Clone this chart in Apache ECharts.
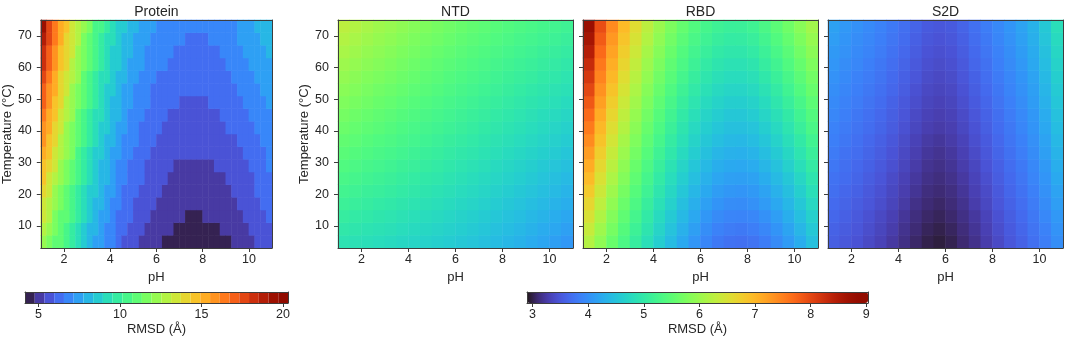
<!DOCTYPE html>
<html>
<head>
<meta charset="utf-8">
<script src="https://cdn.jsdelivr.net/npm/echarts@6/dist/echarts.min.js"></script>
<style>
html, body { margin: 0; padding: 0; background: #fff; }
#main { width: 1065px; height: 338px; }
</style>
</head>
<body>
<div id="main"></div>
<script>
// cell centres of the response surfaces
var proteinPhCenters = [1.125, 1.375, 1.625, 1.875, 2.125, 2.375, 2.625, 2.875, 3.125, 3.375, 3.625, 3.875,
    4.125, 4.375, 4.625, 4.875, 5.125, 5.375, 5.625, 5.875, 6.125, 6.375, 6.625, 6.875, 7.125, 7.375, 7.625, 7.875,
    8.125, 8.375, 8.625, 8.875, 9.125, 9.375, 9.625, 9.875, 10.125, 10.375, 10.625, 10.875];
var phCenters = [1.25, 1.75, 2.25, 2.75, 3.25, 3.75, 4.25, 4.75, 5.25, 5.75, 6.25, 6.75, 7.25, 7.75, 8.25, 8.75, 9.25, 9.75, 10.25, 10.75];
var tempCenters = [5, 9, 13, 17, 21, 25, 29, 33, 37, 41, 45, 49, 53, 57, 61, 65, 69, 73];

var phTicks = [2, 4, 6, 8, 10];
var tempTicks = [10, 20, 30, 40, 50, 60, 70];
var proteinBarTicks = [5, 10, 15, 20];
var domainBarTicks = [3, 4, 5, 6, 7, 8, 9];

// contour levels of the protein panel
var proteinLevels = [4.18, 4.78, 5.37, 5.97, 6.57, 7.17, 7.76, 8.36, 8.96, 9.56, 10.15, 10.75, 11.35, 11.95, 12.54,
    13.14, 13.74, 14.34, 14.93, 15.53, 16.13, 16.73, 17.32, 17.92, 18.52, 19.12, 19.71, 20.31];

// RMSD (A), one list per pH column, temperature going up
var proteinRmsd = [
    [12.40, 12.81, 13.21, 13.62, 14.03, 14.43, 14.84, 15.24, 15.65, 16.05, 16.46, 16.86, 17.27, 17.68, 18.08, 18.49, 18.89, 19.30],
    [11.88, 12.23, 12.58, 12.94, 13.29, 13.64, 13.99, 14.35, 14.70, 15.05, 15.40, 15.76, 16.11, 16.46, 16.82, 17.17, 17.52, 17.87],
    [11.30, 11.61, 11.91, 12.22, 12.53, 12.83, 13.14, 13.44, 13.75, 14.05, 14.36, 14.66, 14.97, 15.28, 15.58, 15.89, 16.19, 16.50],
    [10.79, 11.05, 11.32, 11.59, 11.86, 12.13, 12.40, 12.67, 12.94, 13.21, 13.48, 13.75, 14.02, 14.29, 14.56, 14.83, 15.10, 15.37],
    [10.27, 10.52, 10.77, 11.02, 11.26, 11.51, 11.76, 12.00, 12.25, 12.50, 12.75, 12.99, 13.24, 13.49, 13.74, 13.98, 14.23, 14.48],
    [9.72, 9.95, 10.18, 10.42, 10.65, 10.88, 11.12, 11.35, 11.58, 11.82, 12.05, 12.28, 12.52, 12.75, 12.98, 13.22, 13.45, 13.68],
    [9.11, 9.33, 9.56, 9.78, 10.00, 10.22, 10.44, 10.67, 10.89, 11.11, 11.33, 11.56, 11.78, 12.00, 12.22, 12.44, 12.67, 12.89],
    [8.55, 8.76, 8.97, 9.18, 9.39, 9.60, 9.80, 10.01, 10.22, 10.43, 10.64, 10.85, 11.05, 11.26, 11.47, 11.68, 11.89, 12.10],
    [8.10, 8.29, 8.48, 8.67, 8.86, 9.05, 9.25, 9.44, 9.63, 9.82, 10.01, 10.20, 10.40, 10.59, 10.78, 10.97, 11.16, 11.35],
    [7.69, 7.87, 8.04, 8.22, 8.40, 8.58, 8.76, 8.93, 9.11, 9.29, 9.47, 9.64, 9.82, 10.00, 10.18, 10.36, 10.53, 10.71],
    [7.33, 7.50, 7.67, 7.83, 8.00, 8.17, 8.33, 8.50, 8.67, 8.83, 9.00, 9.17, 9.33, 9.50, 9.67, 9.83, 10.00, 10.17],
    [6.98, 7.14, 7.30, 7.45, 7.61, 7.77, 7.93, 8.09, 8.25, 8.40, 8.56, 8.72, 8.88, 9.04, 9.20, 9.35, 9.51, 9.67],
    [6.61, 6.76, 6.92, 7.07, 7.22, 7.38, 7.53, 7.68, 7.84, 7.99, 8.15, 8.30, 8.45, 8.61, 8.76, 8.92, 9.07, 9.22],
    [6.26, 6.41, 6.56, 6.71, 6.86, 7.01, 7.16, 7.31, 7.46, 7.62, 7.77, 7.92, 8.07, 8.22, 8.37, 8.52, 8.67, 8.82],
    [5.95, 6.10, 6.25, 6.40, 6.54, 6.69, 6.84, 6.98, 7.13, 7.28, 7.43, 7.57, 7.72, 7.87, 8.01, 8.16, 8.31, 8.46],
    [5.72, 5.86, 6.00, 6.14, 6.28, 6.42, 6.56, 6.70, 6.85, 6.99, 7.13, 7.27, 7.41, 7.55, 7.69, 7.83, 7.97, 8.11],
    [5.52, 5.65, 5.79, 5.92, 6.06, 6.19, 6.33, 6.46, 6.60, 6.73, 6.87, 7.00, 7.14, 7.27, 7.41, 7.54, 7.68, 7.81],
    [5.32, 5.45, 5.58, 5.71, 5.85, 5.98, 6.11, 6.24, 6.37, 6.51, 6.64, 6.77, 6.90, 7.04, 7.17, 7.30, 7.43, 7.56],
    [5.15, 5.28, 5.41, 5.54, 5.67, 5.80, 5.93, 6.06, 6.19, 6.32, 6.45, 6.58, 6.71, 6.84, 6.97, 7.10, 7.24, 7.37],
    [5.00, 5.13, 5.26, 5.39, 5.52, 5.65, 5.78, 5.91, 6.04, 6.17, 6.30, 6.43, 6.56, 6.69, 6.82, 6.95, 7.09, 7.22],
    [4.86, 4.99, 5.12, 5.25, 5.38, 5.51, 5.64, 5.77, 5.90, 6.03, 6.16, 6.29, 6.42, 6.55, 6.68, 6.81, 6.95, 7.08],
    [4.75, 4.88, 5.01, 5.14, 5.27, 5.40, 5.53, 5.66, 5.79, 5.92, 6.05, 6.18, 6.31, 6.44, 6.57, 6.70, 6.83, 6.96],
    [4.66, 4.79, 4.92, 5.05, 5.18, 5.30, 5.43, 5.56, 5.69, 5.81, 5.94, 6.07, 6.20, 6.33, 6.45, 6.58, 6.71, 6.84],
    [4.59, 4.72, 4.85, 4.98, 5.10, 5.23, 5.36, 5.48, 5.61, 5.74, 5.87, 5.99, 6.12, 6.25, 6.38, 6.50, 6.63, 6.76],
    [4.54, 4.67, 4.80, 4.92, 5.05, 5.18, 5.30, 5.43, 5.56, 5.68, 5.81, 5.94, 6.06, 6.19, 6.32, 6.44, 6.57, 6.70],
    [4.51, 4.64, 4.77, 4.89, 5.02, 5.15, 5.27, 5.40, 5.53, 5.65, 5.78, 5.91, 6.03, 6.16, 6.29, 6.41, 6.54, 6.67],
    [4.50, 4.63, 4.75, 4.88, 5.01, 5.13, 5.26, 5.38, 5.51, 5.63, 5.76, 5.88, 6.01, 6.14, 6.26, 6.39, 6.51, 6.64],
    [4.50, 4.63, 4.76, 4.88, 5.01, 5.13, 5.26, 5.39, 5.51, 5.64, 5.76, 5.89, 6.02, 6.14, 6.27, 6.39, 6.52, 6.65],
    [4.53, 4.66, 4.79, 4.91, 5.04, 5.16, 5.29, 5.42, 5.54, 5.67, 5.79, 5.92, 6.05, 6.17, 6.30, 6.42, 6.55, 6.68],
    [4.56, 4.69, 4.82, 4.95, 5.08, 5.20, 5.33, 5.46, 5.59, 5.71, 5.84, 5.97, 6.10, 6.23, 6.35, 6.48, 6.61, 6.74],
    [4.61, 4.74, 4.87, 5.00, 5.13, 5.26, 5.39, 5.52, 5.65, 5.78, 5.91, 6.04, 6.17, 6.30, 6.43, 6.56, 6.68, 6.81],
    [4.69, 4.82, 4.95, 5.08, 5.21, 5.34, 5.47, 5.60, 5.73, 5.87, 6.00, 6.13, 6.26, 6.39, 6.52, 6.65, 6.78, 6.91],
    [4.77, 4.90, 5.03, 5.17, 5.30, 5.43, 5.57, 5.70, 5.83, 5.97, 6.10, 6.23, 6.37, 6.50, 6.63, 6.77, 6.90, 7.03],
    [4.87, 5.00, 5.14, 5.27, 5.41, 5.54, 5.68, 5.81, 5.95, 6.08, 6.22, 6.35, 6.49, 6.62, 6.76, 6.89, 7.03, 7.16],
    [4.98, 5.12, 5.25, 5.39, 5.53, 5.67, 5.80, 5.94, 6.08, 6.21, 6.35, 6.49, 6.63, 6.76, 6.90, 7.04, 7.17, 7.31],
    [5.11, 5.25, 5.39, 5.52, 5.66, 5.80, 5.94, 6.08, 6.22, 6.35, 6.49, 6.63, 6.77, 6.91, 7.05, 7.18, 7.32, 7.46],
    [5.25, 5.39, 5.53, 5.67, 5.81, 5.95, 6.09, 6.23, 6.37, 6.50, 6.64, 6.78, 6.92, 7.06, 7.20, 7.34, 7.48, 7.62],
    [5.40, 5.54, 5.68, 5.82, 5.97, 6.11, 6.25, 6.39, 6.53, 6.67, 6.81, 6.95, 7.09, 7.23, 7.38, 7.52, 7.66, 7.80],
    [5.56, 5.70, 5.84, 5.99, 6.13, 6.27, 6.41, 6.55, 6.69, 6.84, 6.98, 7.12, 7.26, 7.40, 7.54, 7.69, 7.83, 7.97],
    [5.73, 5.87, 6.01, 6.16, 6.30, 6.44, 6.58, 6.72, 6.86, 7.01, 7.15, 7.29, 7.43, 7.57, 7.71, 7.86, 8.00, 8.14]
];

var ntdRmsd = [
    [4.90, 4.98, 5.06, 5.14, 5.22, 5.30, 5.38, 5.46, 5.54, 5.62, 5.70, 5.78, 5.86, 5.94, 6.02, 6.10, 6.18, 6.26],
    [4.87, 4.95, 5.02, 5.10, 5.18, 5.26, 5.33, 5.41, 5.49, 5.56, 5.64, 5.72, 5.80, 5.87, 5.95, 6.03, 6.10, 6.18],
    [4.84, 4.91, 4.99, 5.06, 5.13, 5.21, 5.28, 5.36, 5.43, 5.51, 5.58, 5.66, 5.73, 5.80, 5.88, 5.95, 6.03, 6.10],
    [4.81, 4.88, 4.95, 5.02, 5.10, 5.17, 5.24, 5.31, 5.38, 5.46, 5.53, 5.60, 5.67, 5.75, 5.82, 5.89, 5.96, 6.03],
    [4.78, 4.85, 4.92, 4.99, 5.06, 5.13, 5.20, 5.27, 5.34, 5.41, 5.48, 5.55, 5.62, 5.69, 5.76, 5.83, 5.90, 5.97],
    [4.74, 4.81, 4.88, 4.95, 5.02, 5.08, 5.15, 5.22, 5.29, 5.35, 5.42, 5.49, 5.56, 5.63, 5.69, 5.76, 5.83, 5.90],
    [4.71, 4.78, 4.84, 4.91, 4.98, 5.04, 5.11, 5.17, 5.24, 5.30, 5.37, 5.43, 5.50, 5.57, 5.63, 5.70, 5.76, 5.83],
    [4.67, 4.74, 4.80, 4.87, 4.93, 4.99, 5.06, 5.12, 5.19, 5.25, 5.32, 5.38, 5.45, 5.51, 5.57, 5.64, 5.70, 5.77],
    [4.64, 4.70, 4.77, 4.83, 4.89, 4.96, 5.02, 5.08, 5.14, 5.21, 5.27, 5.33, 5.40, 5.46, 5.52, 5.58, 5.65, 5.71],
    [4.60, 4.66, 4.72, 4.79, 4.85, 4.91, 4.97, 5.03, 5.09, 5.16, 5.22, 5.28, 5.34, 5.40, 5.46, 5.53, 5.59, 5.65],
    [4.56, 4.62, 4.68, 4.74, 4.80, 4.86, 4.92, 4.98, 5.05, 5.11, 5.17, 5.23, 5.29, 5.35, 5.41, 5.47, 5.53, 5.59],
    [4.52, 4.58, 4.64, 4.70, 4.76, 4.82, 4.88, 4.94, 5.00, 5.06, 5.12, 5.18, 5.24, 5.30, 5.36, 5.42, 5.48, 5.54],
    [4.47, 4.53, 4.59, 4.65, 4.71, 4.77, 4.83, 4.89, 4.95, 5.01, 5.07, 5.13, 5.19, 5.25, 5.31, 5.37, 5.43, 5.49],
    [4.42, 4.48, 4.54, 4.60, 4.66, 4.72, 4.78, 4.84, 4.90, 4.96, 5.02, 5.08, 5.14, 5.20, 5.26, 5.32, 5.38, 5.44],
    [4.37, 4.43, 4.49, 4.55, 4.61, 4.67, 4.73, 4.79, 4.85, 4.91, 4.97, 5.03, 5.09, 5.15, 5.21, 5.27, 5.33, 5.39],
    [4.32, 4.38, 4.44, 4.50, 4.56, 4.62, 4.68, 4.74, 4.80, 4.86, 4.92, 4.98, 5.04, 5.10, 5.16, 5.22, 5.28, 5.34],
    [4.26, 4.32, 4.38, 4.44, 4.51, 4.57, 4.63, 4.69, 4.75, 4.81, 4.87, 4.93, 4.99, 5.06, 5.12, 5.18, 5.24, 5.30],
    [4.20, 4.26, 4.33, 4.39, 4.45, 4.51, 4.57, 4.64, 4.70, 4.76, 4.82, 4.89, 4.95, 5.01, 5.07, 5.13, 5.20, 5.26],
    [4.14, 4.21, 4.27, 4.33, 4.40, 4.46, 4.52, 4.59, 4.65, 4.71, 4.78, 4.84, 4.90, 4.97, 5.03, 5.09, 5.16, 5.22],
    [4.08, 4.15, 4.21, 4.28, 4.34, 4.40, 4.47, 4.53, 4.60, 4.66, 4.73, 4.79, 4.86, 4.92, 4.98, 5.05, 5.11, 5.18]
];

var rbdRmsd = [
    [6.20, 6.35, 6.50, 6.65, 6.80, 6.95, 7.10, 7.25, 7.40, 7.55, 7.70, 7.85, 8.00, 8.15, 8.30, 8.45, 8.60, 8.75],
    [5.91, 6.03, 6.15, 6.27, 6.39, 6.51, 6.63, 6.75, 6.87, 6.98, 7.10, 7.22, 7.34, 7.46, 7.58, 7.70, 7.82, 7.94],
    [5.60, 5.71, 5.81, 5.92, 6.03, 6.13, 6.24, 6.34, 6.45, 6.55, 6.66, 6.76, 6.87, 6.98, 7.08, 7.19, 7.29, 7.40],
    [5.33, 5.42, 5.52, 5.61, 5.71, 5.81, 5.90, 6.00, 6.09, 6.19, 6.28, 6.38, 6.48, 6.57, 6.67, 6.76, 6.86, 6.95],
    [5.07, 5.16, 5.25, 5.34, 5.43, 5.52, 5.60, 5.69, 5.78, 5.87, 5.96, 6.05, 6.13, 6.22, 6.31, 6.40, 6.49, 6.58],
    [4.84, 4.93, 5.01, 5.09, 5.18, 5.26, 5.34, 5.43, 5.51, 5.59, 5.68, 5.76, 5.84, 5.93, 6.01, 6.09, 6.18, 6.26],
    [4.62, 4.70, 4.78, 4.86, 4.94, 5.02, 5.10, 5.18, 5.27, 5.35, 5.43, 5.51, 5.59, 5.67, 5.75, 5.83, 5.91, 5.99],
    [4.42, 4.50, 4.58, 4.66, 4.74, 4.81, 4.89, 4.97, 5.05, 5.13, 5.21, 5.29, 5.37, 5.45, 5.52, 5.60, 5.68, 5.76],
    [4.23, 4.31, 4.39, 4.46, 4.54, 4.62, 4.70, 4.78, 4.86, 4.93, 5.01, 5.09, 5.17, 5.25, 5.33, 5.40, 5.48, 5.56],
    [4.06, 4.14, 4.22, 4.29, 4.37, 4.45, 4.53, 4.61, 4.69, 4.76, 4.84, 4.92, 5.00, 5.08, 5.16, 5.23, 5.31, 5.39],
    [3.91, 3.99, 4.07, 4.15, 4.23, 4.31, 4.39, 4.47, 4.55, 4.62, 4.70, 4.78, 4.86, 4.94, 5.02, 5.10, 5.18, 5.26],
    [3.80, 3.88, 3.96, 4.04, 4.12, 4.20, 4.28, 4.36, 4.45, 4.53, 4.61, 4.69, 4.77, 4.85, 4.93, 5.01, 5.09, 5.17],
    [3.74, 3.82, 3.90, 3.98, 4.07, 4.15, 4.23, 4.31, 4.39, 4.47, 4.55, 4.63, 4.71, 4.80, 4.88, 4.96, 5.04, 5.12],
    [3.72, 3.80, 3.89, 3.97, 4.05, 4.14, 4.22, 4.30, 4.38, 4.47, 4.55, 4.63, 4.71, 4.80, 4.88, 4.96, 5.05, 5.13],
    [3.75, 3.84, 3.92, 4.01, 4.09, 4.17, 4.26, 4.34, 4.43, 4.51, 4.60, 4.68, 4.77, 4.85, 4.93, 5.02, 5.10, 5.19],
    [3.83, 3.92, 4.01, 4.10, 4.18, 4.27, 4.36, 4.44, 4.53, 4.62, 4.71, 4.79, 4.88, 4.97, 5.06, 5.14, 5.23, 5.32],
    [3.96, 4.04, 4.13, 4.22, 4.31, 4.40, 4.49, 4.58, 4.67, 4.76, 4.85, 4.94, 5.03, 5.12, 5.21, 5.30, 5.39, 5.48],
    [4.10, 4.19, 4.28, 4.37, 4.46, 4.55, 4.65, 4.74, 4.83, 4.92, 5.01, 5.10, 5.20, 5.29, 5.38, 5.47, 5.56, 5.65],
    [4.27, 4.36, 4.45, 4.55, 4.64, 4.73, 4.83, 4.92, 5.01, 5.11, 5.20, 5.29, 5.39, 5.48, 5.57, 5.67, 5.76, 5.85],
    [4.47, 4.56, 4.65, 4.75, 4.84, 4.93, 5.03, 5.12, 5.21, 5.31, 5.40, 5.49, 5.59, 5.68, 5.77, 5.87, 5.96, 6.05]
];

var s2dRmsd = [
    [3.57, 3.60, 3.64, 3.67, 3.71, 3.74, 3.78, 3.81, 3.85, 3.88, 3.92, 3.95, 3.99, 4.02, 4.06, 4.09, 4.13, 4.16],
    [3.51, 3.54, 3.58, 3.61, 3.64, 3.68, 3.71, 3.74, 3.78, 3.81, 3.85, 3.88, 3.91, 3.95, 3.98, 4.02, 4.05, 4.08],
    [3.46, 3.49, 3.52, 3.55, 3.59, 3.62, 3.65, 3.69, 3.72, 3.75, 3.78, 3.82, 3.85, 3.88, 3.92, 3.95, 3.98, 4.01],
    [3.39, 3.42, 3.45, 3.49, 3.52, 3.55, 3.59, 3.62, 3.65, 3.69, 3.72, 3.75, 3.79, 3.82, 3.85, 3.89, 3.92, 3.95],
    [3.32, 3.35, 3.38, 3.42, 3.45, 3.48, 3.52, 3.55, 3.58, 3.62, 3.65, 3.68, 3.72, 3.75, 3.78, 3.82, 3.85, 3.88],
    [3.24, 3.27, 3.30, 3.34, 3.37, 3.40, 3.44, 3.47, 3.50, 3.54, 3.57, 3.60, 3.64, 3.67, 3.70, 3.74, 3.77, 3.80],
    [3.15, 3.18, 3.21, 3.25, 3.28, 3.31, 3.35, 3.38, 3.41, 3.45, 3.48, 3.51, 3.55, 3.58, 3.61, 3.65, 3.68, 3.71],
    [3.07, 3.10, 3.13, 3.16, 3.20, 3.23, 3.26, 3.29, 3.32, 3.36, 3.39, 3.42, 3.45, 3.49, 3.52, 3.55, 3.58, 3.61],
    [3.01, 3.04, 3.07, 3.10, 3.13, 3.16, 3.19, 3.22, 3.25, 3.29, 3.32, 3.35, 3.38, 3.41, 3.44, 3.47, 3.50, 3.53],
    [2.98, 3.01, 3.04, 3.07, 3.10, 3.13, 3.16, 3.19, 3.22, 3.26, 3.29, 3.32, 3.35, 3.38, 3.41, 3.44, 3.47, 3.50],
    [3.02, 3.05, 3.08, 3.11, 3.14, 3.17, 3.20, 3.23, 3.26, 3.29, 3.32, 3.35, 3.38, 3.41, 3.44, 3.47, 3.50, 3.53],
    [3.09, 3.12, 3.15, 3.18, 3.21, 3.24, 3.27, 3.30, 3.33, 3.37, 3.40, 3.43, 3.46, 3.49, 3.52, 3.55, 3.58, 3.61],
    [3.17, 3.20, 3.23, 3.27, 3.30, 3.33, 3.36, 3.40, 3.43, 3.46, 3.49, 3.53, 3.56, 3.59, 3.63, 3.66, 3.69, 3.72],
    [3.27, 3.30, 3.33, 3.37, 3.40, 3.43, 3.47, 3.50, 3.53, 3.57, 3.60, 3.63, 3.67, 3.70, 3.73, 3.77, 3.80, 3.83],
    [3.39, 3.42, 3.45, 3.49, 3.52, 3.55, 3.58, 3.62, 3.65, 3.68, 3.71, 3.75, 3.78, 3.81, 3.85, 3.88, 3.91, 3.94],
    [3.50, 3.53, 3.56, 3.60, 3.63, 3.66, 3.69, 3.73, 3.76, 3.79, 3.82, 3.86, 3.89, 3.92, 3.96, 3.99, 4.02, 4.05],
    [3.60, 3.63, 3.67, 3.70, 3.74, 3.77, 3.80, 3.84, 3.87, 3.91, 3.94, 3.98, 4.01, 4.04, 4.08, 4.11, 4.15, 4.18],
    [3.72, 3.75, 3.79, 3.82, 3.86, 3.90, 3.93, 3.97, 4.00, 4.04, 4.07, 4.11, 4.14, 4.18, 4.22, 4.25, 4.29, 4.32],
    [3.84, 3.88, 3.93, 3.97, 4.01, 4.05, 4.09, 4.14, 4.18, 4.22, 4.26, 4.31, 4.35, 4.39, 4.43, 4.47, 4.52, 4.56],
    [3.99, 4.03, 4.08, 4.13, 4.18, 4.23, 4.28, 4.33, 4.38, 4.43, 4.48, 4.53, 4.58, 4.63, 4.68, 4.73, 4.78, 4.83]
];

var textColor = '#262626';
var lineColor = '#3d3d3d';
var font = 'Liberation Sans';

// turbo colour map (polynomial fit)
function turbo(t) {
    t = Math.max(0, Math.min(1, t));
    var r = 0.13572138 + t * (4.61539260 + t * (-42.66032258 + t * (132.13108234 + t * (-152.94239396 + t * 59.28637943))));
    var g = 0.09140261 + t * (2.19418839 + t * (4.84296658 + t * (-14.18503333 + t * (4.27729857 + t * 2.82956604))));
    var b = 0.10667330 + t * (12.64194608 + t * (-60.58204836 + t * (110.36276771 + t * (-89.90310912 + t * 27.34824973))));
    return 'rgb(' + [r, g, b].map(function (c) {
        return Math.round(255 * Math.max(0, Math.min(1, c)));
    }).join(',') + ')';
}

function cells(columns) {
    var out = [];
    columns.forEach(function (col, i) {
        col.forEach(function (v, j) {
            out.push([i, j, v]);
        });
    });
    return out;
}

var panels = [
    {title: 'Protein', data: proteinRmsd, ph: proteinPhCenters, left: 37, yLabels: true},
    {title: 'NTD', data: ntdRmsd, ph: phCenters, left: 338, yLabels: true},
    {title: 'RBD', data: rbdRmsd, ph: phCenters, left: 583, yLabels: false},
    {title: 'S2D', data: s2dRmsd, ph: phCenters, left: 828, yLabels: false}
];

var colorbars = [
    {left: 25, width: 263, min: 4.18, max: 20.31, ticks: proteinBarTicks},
    {left: 527, width: 341, min: 2.90, max: 9.03, ticks: domainBarTicks}
];

var axisLineStyle = {color: lineColor, width: 1};
var nameStyle = {fontFamily: font, fontSize: 13, color: textColor};

function lineOnly(type, gridIndex, position, extra) {
    var ax = {
        type: type, gridIndex: gridIndex, position: position, z: 10,
        axisLine: {show: true, onZero: false, lineStyle: axisLineStyle},
        axisTick: {show: false}, axisLabel: {show: false}, splitLine: {show: false}
    };
    for (var k in extra) ax[k] = extra[k];
    return ax;
}

var grids = [], xAxes = [], yAxes = [], series = [];

panels.forEach(function (p, i) {
    grids.push({left: p.left, top: 17, width: 235, height: 231});

    xAxes.push(lineOnly('category', i, 'top', {
        data: p.ph,
        name: p.title, nameLocation: 'middle', nameGap: 1,
        nameTextStyle: {fontFamily: font, fontSize: 14, color: textColor}
    }));
    xAxes.push({
        type: 'value', gridIndex: i, position: 'bottom', min: 1, max: 11, z: 10,
        name: 'pH', nameLocation: 'middle', nameGap: 20, nameTextStyle: nameStyle,
        axisLine: {onZero: false, lineStyle: axisLineStyle},
        axisTick: {length: 4, customValues: phTicks, lineStyle: axisLineStyle},
        axisLabel: {customValues: phTicks, margin: 5, fontFamily: font, fontSize: 12.5, color: textColor},
        splitLine: {show: false}
    });

    yAxes.push(lineOnly('category', i, 'right', {data: tempCenters}));
    yAxes.push({
        type: 'value', gridIndex: i, position: 'left', min: 3, max: 75, z: 10,
        name: p.yLabels ? 'Temperature (°C)' : '', nameLocation: 'middle', nameGap: 23.5, nameRotate: 90,
        nameTextStyle: nameStyle,
        axisLine: {onZero: false, lineStyle: axisLineStyle},
        axisTick: {length: 4, customValues: tempTicks, lineStyle: axisLineStyle},
        axisLabel: {show: p.yLabels, customValues: tempTicks, margin: 9, fontFamily: font, fontSize: 12.5, color: textColor},
        splitLine: {show: false}
    });

    series.push({
        type: 'heatmap',
        xAxisIndex: 2 * i,
        yAxisIndex: 2 * i,
        data: cells(p.data),
        itemStyle: {borderWidth: 0},
        emphasis: {disabled: true}
    });
});

colorbars.forEach(function (c, k) {
    var gi = panels.length + k;
    grids.push({left: c.left, top: 292, width: c.width, height: 11});
    xAxes.push({
        type: 'value', gridIndex: gi, position: 'bottom', min: c.min, max: c.max, z: 10,
        name: 'RMSD (Å)', nameLocation: 'middle', nameGap: 20, nameTextStyle: nameStyle,
        axisLine: {onZero: false, lineStyle: axisLineStyle},
        axisTick: {length: 4, customValues: c.ticks, lineStyle: axisLineStyle},
        axisLabel: {customValues: c.ticks, margin: 5, fontFamily: font, fontSize: 12.5, color: textColor},
        splitLine: {show: false}
    });
    xAxes.push(lineOnly('value', gi, 'top', {min: c.min, max: c.max}));
    yAxes.push(lineOnly('value', gi, 'left', {min: 0, max: 1}));
    yAxes.push(lineOnly('value', gi, 'right', {min: 0, max: 1}));
});

// protein panel: discrete contour bands
var proteinPieces = [];
var lvMin = proteinLevels[0], lvMax = proteinLevels[proteinLevels.length - 1];
for (var i = 0; i < proteinLevels.length - 1; i++) {
    var lo = proteinLevels[i], hi = proteinLevels[i + 1];
    proteinPieces.push({
        gte: lo, lt: hi,
        color: turbo(((lo + hi) / 2 - lvMin) / (lvMax - lvMin))
    });
}

var turboStops = [];
for (var s = 0; s <= 32; s++) turboStops.push(turbo(s / 32));

var chart = echarts.init(document.getElementById('main'));
chart.setOption({
    animation: false,
    backgroundColor: '#fff',
    grid: grids,
    xAxis: xAxes,
    yAxis: yAxes,
    visualMap: [
        {
            type: 'piecewise',
            seriesIndex: 0,
            pieces: proteinPieces,
            orient: 'horizontal',
            left: colorbars[0].left,
            top: 292,
            padding: 0,
            itemWidth: colorbars[0].width / proteinPieces.length,
            itemHeight: 11,
            itemGap: 0,
            itemSymbol: 'rect',
            showLabel: false,
            selectedMode: false,
            hoverLink: false
        },
        {
            type: 'continuous',
            seriesIndex: [1, 2, 3],
            min: colorbars[1].min,
            max: colorbars[1].max,
            orient: 'horizontal',
            left: colorbars[1].left,
            top: 292,
            padding: 0,
            itemWidth: 11,
            itemHeight: colorbars[1].width,
            calculable: false,
            hoverLink: false,
            inRange: {color: turboStops}
        }
    ],
    series: series
});
</script>
</body>
</html>
